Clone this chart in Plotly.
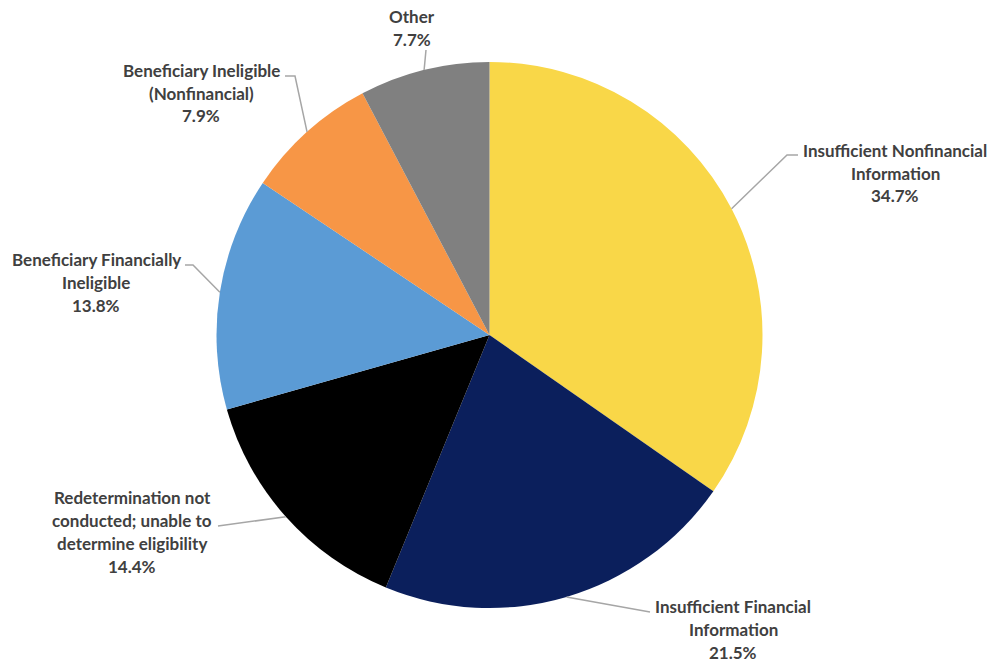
import math
import plotly.graph_objects as go

# ---- data ----
categories = [
    "Insufficient Nonfinancial<br>Information",
    "Insufficient Financial<br>Information",
    "Redetermination not<br>conducted; unable to<br>determine eligibility",
    "Beneficiary Financially<br>Ineligible",
    "Beneficiary Ineligible<br>(Nonfinancial)",
    "Other",
]
values = [34.7, 21.5, 14.4, 13.8, 7.9, 7.7]
colors = ["#F9D748", "#0B1F5C", "#000000", "#5B9BD5", "#F79646", "#808080"]

# ---- layout geometry (pixels) ----
W, H = 995, 662
CX, CY, R = 489.5, 335.0, 273.0
# label block centre (x, first-line y) and leader elbow points (label side)
label_pos = [(895, 150), (733, 606), (132, 497), (96, 259), (201, 70), (412, 16)]
elbows = [
    [(787, 155), (798, 155)],
    [(650, 612)],
    [(218, 526)],
    [(193, 265), (185, 265)],
    [(295, 76), (285, 76)],
    [(426, 50)],
]
LINE_H = 23
FONT = "Lato"
TXT = "#404040"

def px(x):
    return x / W

def py(y):
    return 1 - y / H

fig = go.Figure(go.Pie(
    labels=[c.replace("<br>", " ") for c in categories],
    values=values,
    sort=False,
    direction="clockwise",
    rotation=0,
    marker=dict(colors=colors, line=dict(width=0)),
    textinfo="none",
    hoverinfo="label+percent",
    domain=dict(x=[px(CX - R), px(CX + R)], y=[py(CY + R), py(CY - R)]),
    showlegend=False,
))

annotations = []
shapes = []
total = sum(values)
cum = 0.0
for i, v in enumerate(values):
    mid = (cum + v / 2) / total * 2 * math.pi
    cum += v
    ex = CX + R * math.sin(mid)
    ey = CY - R * math.cos(mid)
    pts = [(ex, ey)] + elbows[i]
    path = "M " + " L ".join(f"{px(x)},{py(y)}" for x, y in pts)
    shapes.append(dict(type="path", xref="paper", yref="paper", path=path,
                       line=dict(color="#A6A6A6", width=1.5)))
    lines = categories[i].split("<br>") + [f"{v:.1f}%"]
    lx, ly = label_pos[i]
    for k, t in enumerate(lines):
        annotations.append(dict(
            x=px(lx), y=py(ly + k * LINE_H), xref="paper", yref="paper",
            text=f"<b>{t}</b>", showarrow=False, xanchor="center", yanchor="middle",
            font=dict(family=FONT, size=17, color=TXT),
        ))

fig.update_layout(
    width=W, height=H,
    margin=dict(l=0, r=0, t=0, b=0),
    paper_bgcolor="white",
    plot_bgcolor="white",
    annotations=annotations,
    shapes=shapes,
)

fig.write_html("out.html", config={"displayModeBar": False},
               post_script="document.body.style.margin='0';")
